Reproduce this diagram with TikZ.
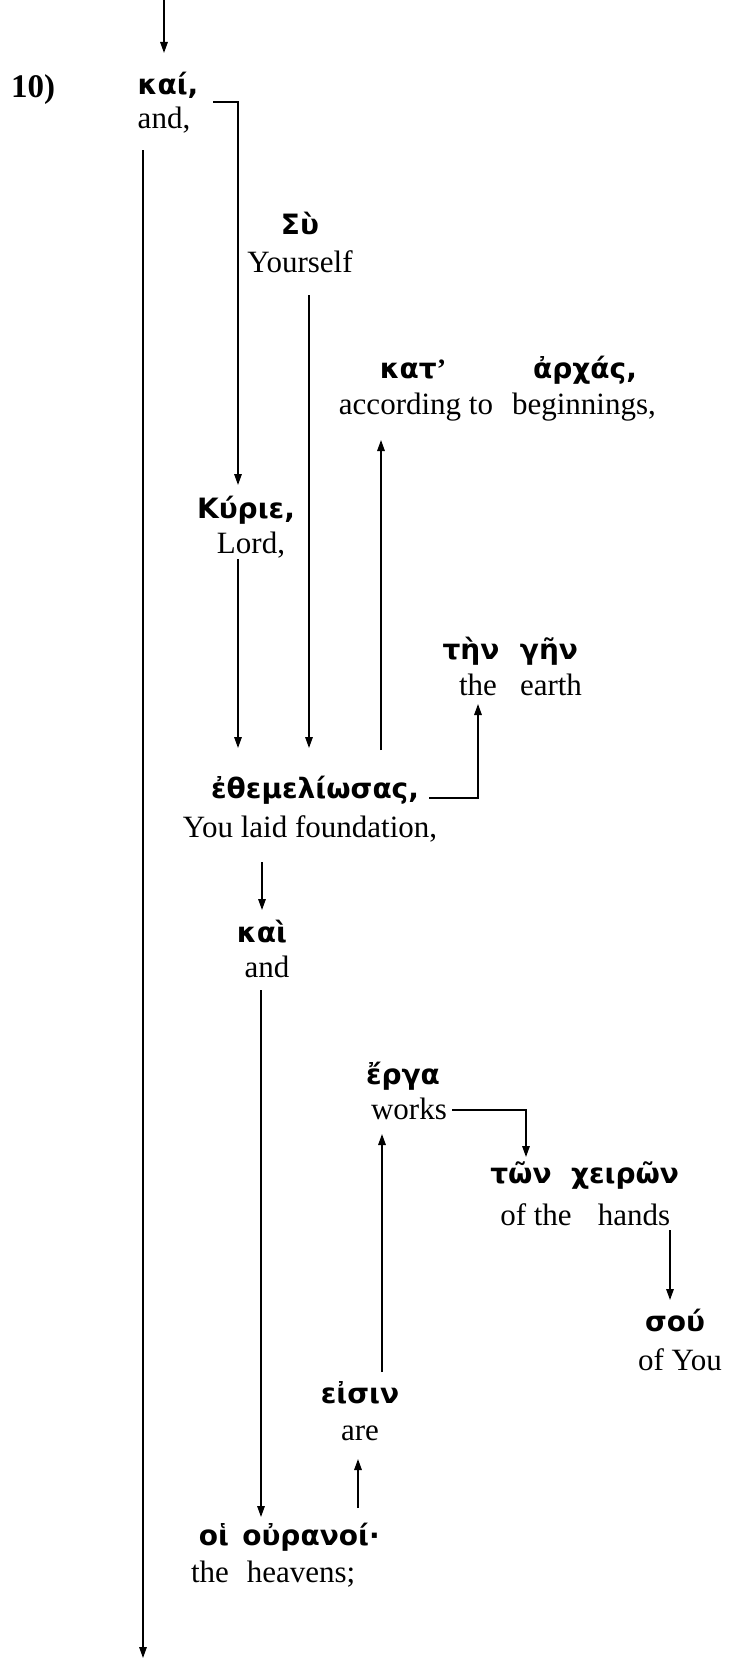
\documentclass[tikz,border=0pt]{standalone}
\usepackage{fontspec}
\setmainfont{Liberation Serif}
\newfontfamily\gkfont{DejaVu Sans}
\usetikzlibrary{arrows.meta}
\tikzset{
  en/.style={inner sep=0pt, anchor=base, font=\fontsize{31}{36}\selectfont},
  gk/.style={inner sep=0pt, anchor=base, font=\fontsize{28}{32}\selectfont\gkfont\bfseries},
  num/.style={inner sep=0pt, anchor=base, font=\fontsize{33}{38}\selectfont\bfseries},
  arr/.style={line width=1.5pt, -{Triangle[length=11pt,width=7.5pt]}},
}
\begin{document}
\begin{tikzpicture}[x=1pt,y=-1pt]
\useasboundingbox (0,0) rectangle (728,1662);
% texts
\node[num] (n10) at (33,97) {10)};
\node[gk] (kai1) at (168,94) {καί,};
\node[en] (and1) at (164,128) {and,};
\node[gk] (sy) at (300,234) {Σὺ};
\node[en] (yourself) at (300,272) {Yourself};
\node[gk] (kat) at (413,378) {κατ\rmfamily’};
\node[gk] (archas) at (585,378) {ἀρχάς,};
\node[en] (according) at (416,414) {according to};
\node[en] (beginnings) at (584,414) {beginnings,};
\node[gk] (kyrie) at (246,518) {Κύριε,};
\node[en] (lord) at (251,553) {Lord,};
\node[gk] (ten) at (471,659) {τὴν};
\node[gk] (gen) at (549,659) {γῆν};
\node[en] (the1) at (478,695) {the};
\node[en] (earth) at (551,695) {earth};
\node[gk] (ethem) at (315,798) {ἐθεμελίωσας,};
\node[en] (laid) at (310,837) {You laid foundation,};
\node[gk] (kai2) at (262,942) {καὶ};
\node[en] (and2) at (267,977) {and};
\node[gk] (erga) at (403,1084) {ἔργα};
\node[en] (works) at (409,1119) {works};
\node[gk] (ton) at (521,1183) {τῶν};
\node[gk] (cheiron) at (625,1183) {χειρῶν};
\node[en] (ofthe) at (536,1225) {of the};
\node[en] (hands) at (634,1225) {hands};
\node[gk] (sou) at (675,1331) {σού};
\node[en] (ofyou) at (680,1370) {of You};
\node[gk] (eisin) at (360,1403) {εἰσιν};
\node[en] (are) at (360,1440) {are};
\node[gk] (hoi) at (214,1545) {οἱ};
\node[gk] (ouranoi) at (311,1545) {οὐρανοί·};
\node[en] (the2) at (210,1582) {the};
\node[en] (heavens) at (301,1582) {heavens;};
% connector points
\coordinate (c0a) at (164,0);
\coordinate (c0b) at (164,53);
\coordinate (c1a) at (213,102);
\coordinate (c1b) at (238,102);
\coordinate (c1c) at (238,485);
\coordinate (c2a) at (143,150);
\coordinate (c2b) at (143,1658);
\coordinate (c3a) at (309,295);
\coordinate (c3b) at (309,748);
\coordinate (c4a) at (238,559);
\coordinate (c4b) at (238,748);
\coordinate (c5a) at (381,750);
\coordinate (c5b) at (381,440);
\coordinate (c6a) at (429,798);
\coordinate (c6b) at (478,798);
\coordinate (c6c) at (478,704);
\coordinate (c7a) at (262,862);
\coordinate (c7b) at (262,910);
\coordinate (c8a) at (261,990);
\coordinate (c8b) at (261,1517);
\coordinate (c9a) at (452,1110);
\coordinate (c9b) at (526,1110);
\coordinate (c9c) at (526,1157);
\coordinate (c10a) at (670,1230);
\coordinate (c10b) at (670,1300);
\coordinate (c11a) at (382,1372);
\coordinate (c11b) at (382,1134);
\coordinate (c12a) at (358,1508);
\coordinate (c12b) at (358,1459);
% connectors
\draw[arr] (c0a) -- (c0b);
\draw[arr] (c1a) -- (c1b) -- (c1c);
\draw[arr] (c2a) -- (c2b);
\draw[arr] (c3a) -- (c3b);
\draw[arr] (c4a) -- (c4b);
\draw[arr] (c5a) -- (c5b);
\draw[arr] (c6a) -- (c6b) -- (c6c);
\draw[arr] (c7a) -- (c7b);
\draw[arr] (c8a) -- (c8b);
\draw[arr] (c9a) -- (c9b) -- (c9c);
\draw[arr] (c10a) -- (c10b);
\draw[arr] (c11a) -- (c11b);
\draw[arr] (c12a) -- (c12b);
\end{tikzpicture}
\end{document}
